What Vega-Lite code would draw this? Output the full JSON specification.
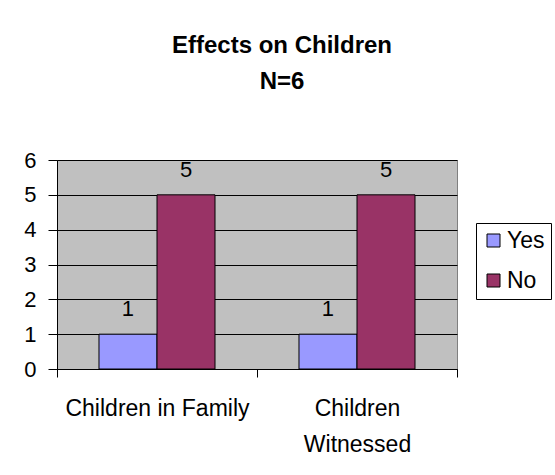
{
  "$schema": "https://vega.github.io/schema/vega-lite/v6.json",
  "width": 400,
  "height": 209,
  "autosize": {"type": "none"},
  "padding": {"left": 57, "top": 160, "right": 98, "bottom": 106},
  "background": "white",
  "config": {
    "font": "Liberation Sans",
    "view": {"fill": "#C0C0C0", "stroke": "#808080", "strokeWidth": 1}
  },
  "title": {
    "text": ["Effects on Children", "N=6"],
    "fontSize": 24,
    "fontWeight": "bold",
    "color": "black",
    "lineHeight": 36,
    "offset": 55,
    "dx": 25,
    "anchor": "middle"
  },
  "data": {
    "values": [
      {"category": "Children in Family", "answer": "Yes", "count": 1},
      {"category": "Children in Family", "answer": "No", "count": 5},
      {"category": "Children Witnessed", "answer": "Yes", "count": 1},
      {"category": "Children Witnessed", "answer": "No", "count": 5}
    ]
  },
  "encoding": {
    "x": {
      "field": "category",
      "type": "nominal",
      "sort": ["Children in Family", "Children Witnessed"],
      "scale": {"paddingInner": 0, "paddingOuter": 0},
      "axis": {
        "title": null,
        "tickBand": "extent",
        "labelAngle": 0,
        "labelLimit": 0,
        "labelOverlap": false,
        "domainColor": "black",
        "tickColor": "black",
        "tickSize": 8,
        "labelFontSize": 23,
        "labelColor": "black",
        "labelPadding": 20,
        "labelLineHeight": 36,
        "labelBaseline": "top",
        "labelExpr": "datum.value == 'Children Witnessed' ? ['Children', 'Witnessed'] : datum.value",
        "grid": false
      }
    },
    "xOffset": {
      "field": "answer",
      "type": "nominal",
      "sort": ["Yes", "No"],
      "scale": {"paddingInner": 0, "paddingOuter": 0.724}
    },
    "y": {
      "field": "count",
      "type": "quantitative",
      "scale": {"domain": [0, 6], "nice": false},
      "axis": {
        "title": null,
        "values": [0, 1, 2, 3, 4, 5, 6],
        "format": "d",
        "grid": true,
        "gridColor": "black",
        "gridOpacity": 1,
        "domainColor": "black",
        "tickColor": "black",
        "tickSize": 9,
        "labelFontSize": 22,
        "labelColor": "black",
        "labelPadding": 12
      }
    }
  },
  "layer": [
    {
      "mark": {"type": "bar", "stroke": "black", "strokeWidth": 1},
      "encoding": {
        "color": {
          "field": "answer",
          "type": "nominal",
          "sort": ["Yes", "No"],
          "scale": {"domain": ["Yes", "No"], "range": ["#9999FF", "#993366"]},
          "legend": {
            "orient": "none",
            "legendX": 419,
            "legendY": 63,
            "title": null,
            "strokeColor": "black",
            "fillColor": "white",
            "padding": 6,
            "rowPadding": 16,
            "labelFontSize": 23,
            "labelColor": "black",
            "labelOffset": 2,
            "symbolType": "square",
            "symbolSize": 169,
            "symbolStrokeColor": "black",
            "symbolStrokeWidth": 1,
            "symbolOpacity": 1
          }
        }
      }
    },
    {
      "mark": {"type": "text", "dy": -18, "baseline": "alphabetic", "fontSize": 22, "color": "black"},
      "encoding": {"text": {"field": "count", "type": "quantitative"}}
    }
  ]
}
